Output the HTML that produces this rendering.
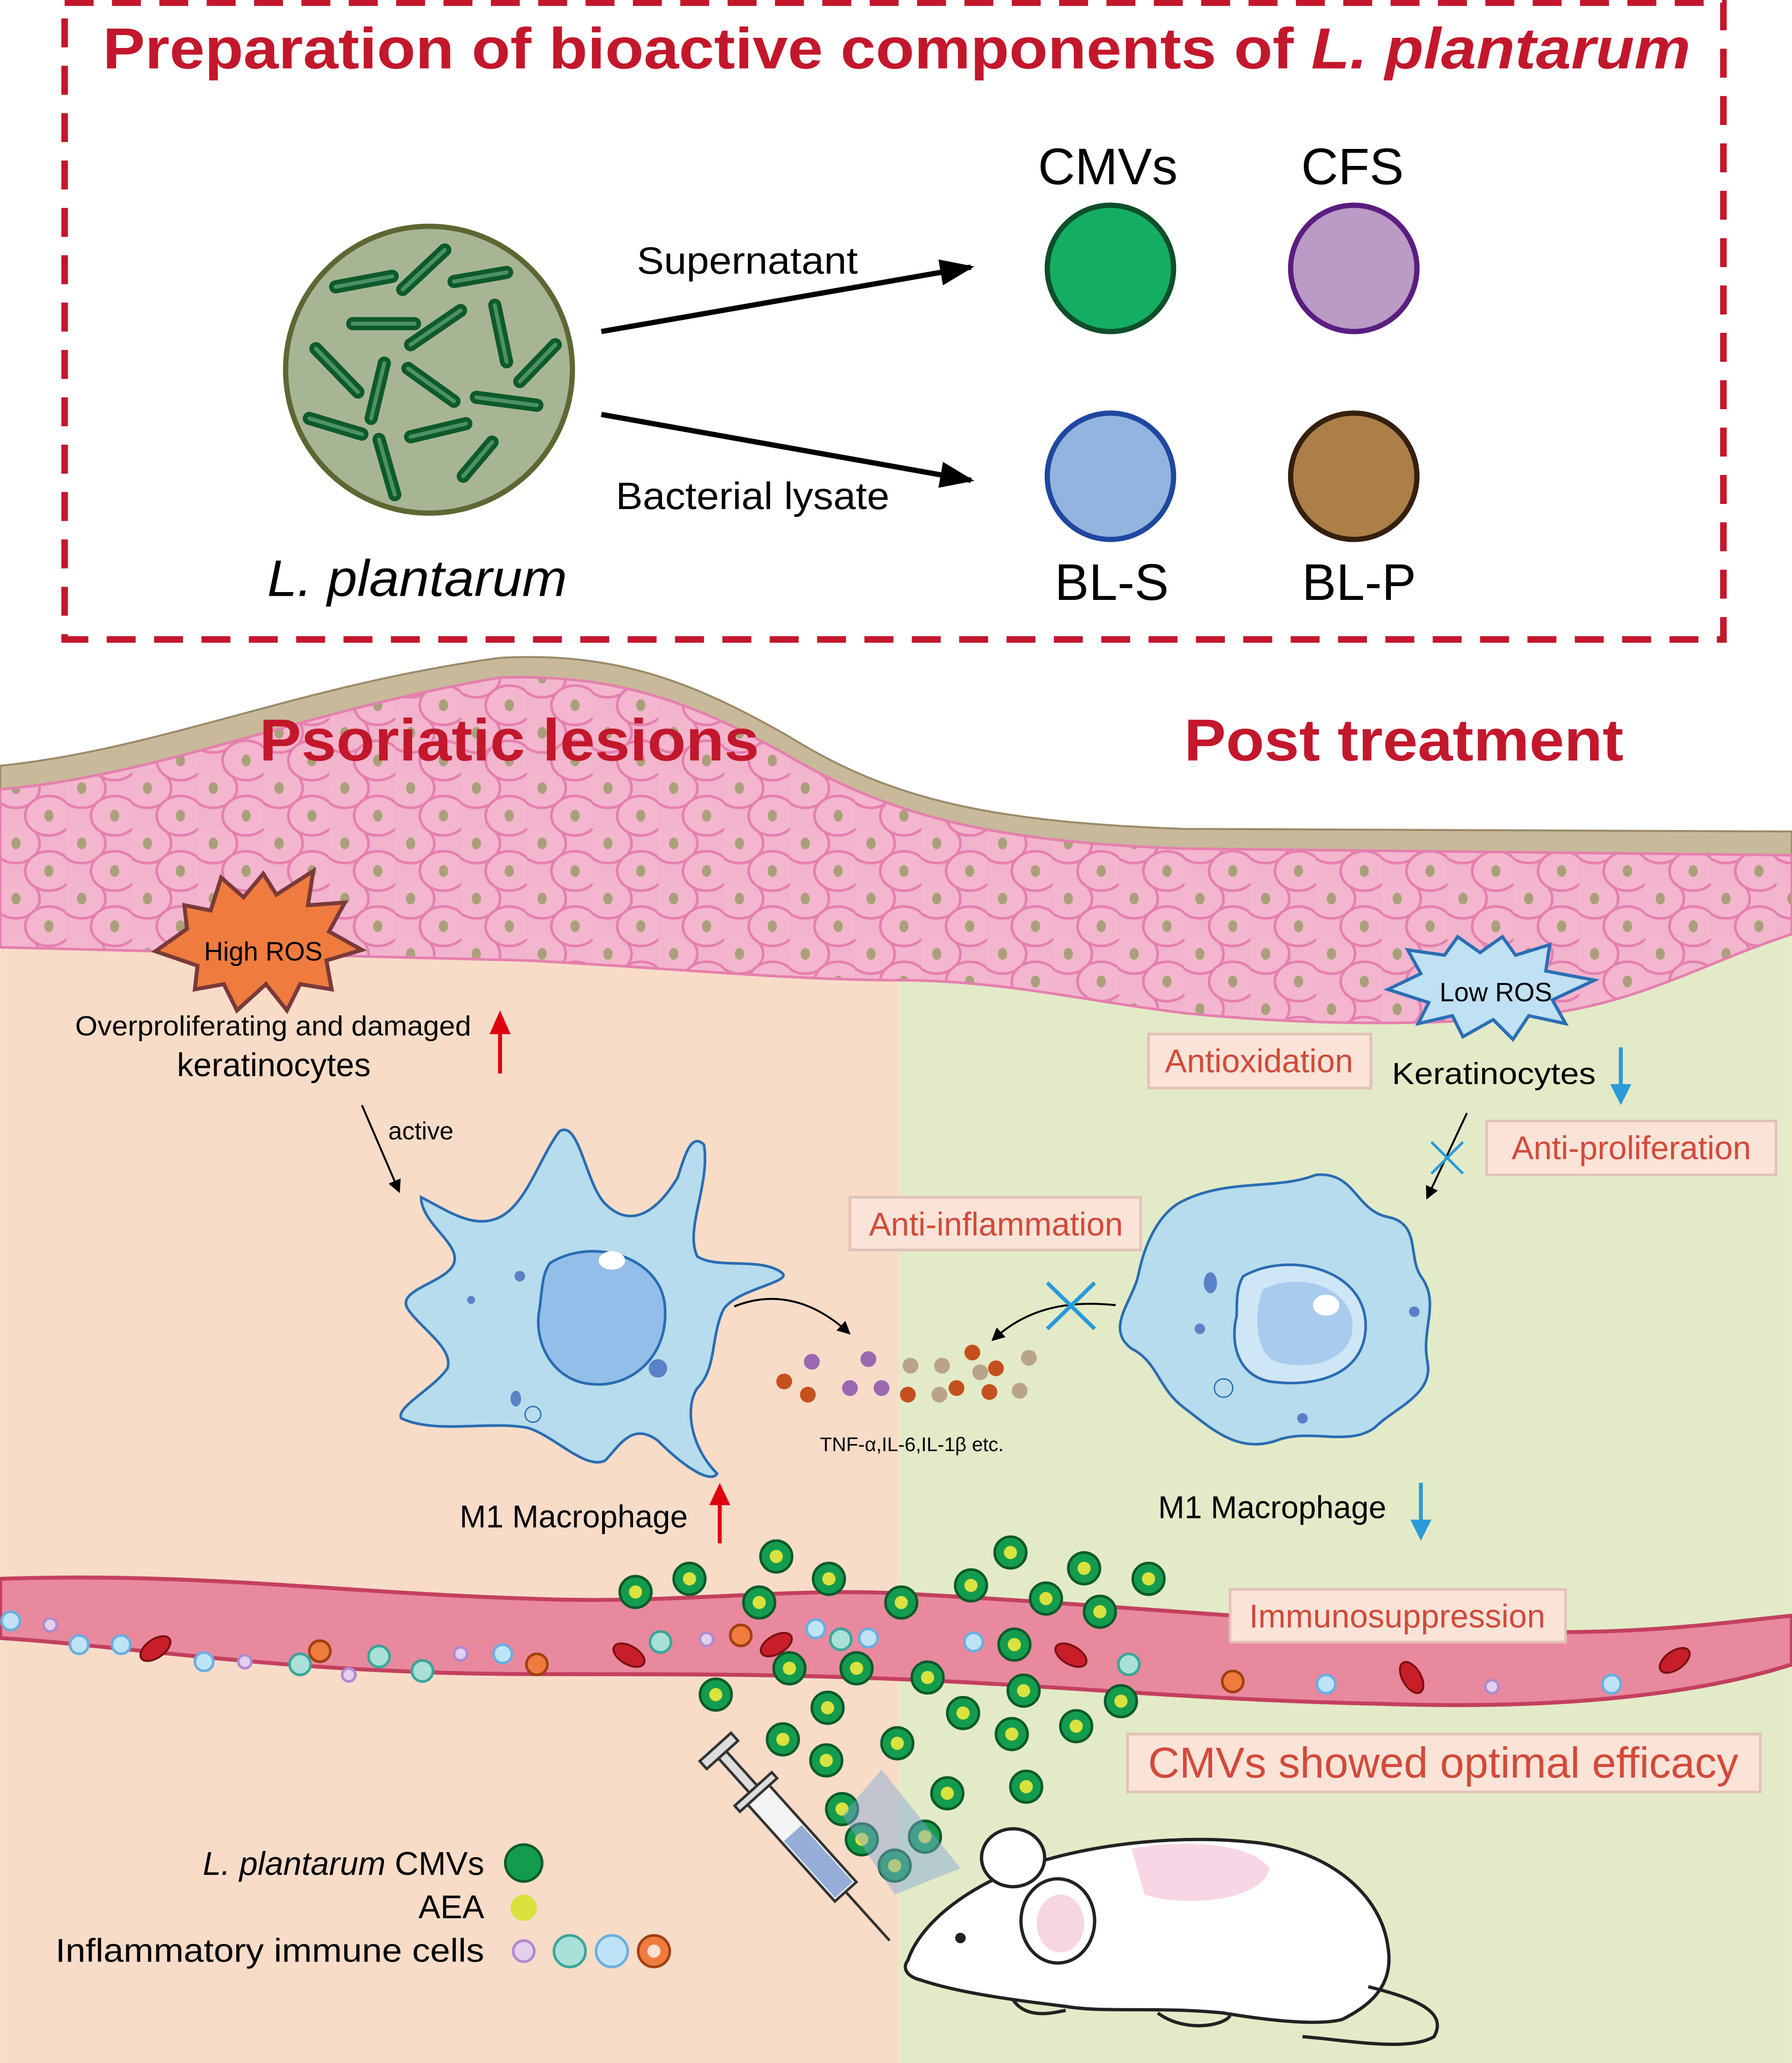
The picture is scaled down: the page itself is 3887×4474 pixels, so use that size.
<!DOCTYPE html>
<html><head><meta charset="utf-8"><style>
html,body{margin:0;padding:0;background:#fff}
svg{display:block}
text{font-family:"Liberation Sans",sans-serif}
</style></head><body>
<svg width="3887" height="4474" viewBox="0 0 1362 1568" xmlns="http://www.w3.org/2000/svg">
<defs>
<pattern id="cells" width="50" height="42" patternUnits="userSpaceOnUse">
<rect width="50" height="42" fill="#f2b3cd"/>
<ellipse cx="12" cy="11" rx="18" ry="15" fill="#f3b6ce" stroke="#e57fae" stroke-width="2"/>
<ellipse cx="37" cy="32" rx="18" ry="15" fill="#f3b6ce" stroke="#e57fae" stroke-width="2"/>
<ellipse cx="37" cy="-10" rx="18" ry="15" fill="#f3b6ce" stroke="#e57fae" stroke-width="2"/>
<ellipse cx="12" cy="11" rx="3.5" ry="4.5" fill="#a9a07a"/>
<ellipse cx="37" cy="32" rx="3.5" ry="4.5" fill="#a9a07a"/>
</pattern>
<marker id="ab" markerWidth="10" markerHeight="10" refX="8" refY="5" orient="auto" markerUnits="userSpaceOnUse"><path d="M0,0 L10,5 L0,10 Z" fill="#000"/></marker>
<marker id="abig" viewBox="0 0 10 10" markerWidth="26" markerHeight="20" refX="9" refY="5" orient="auto" markerUnits="userSpaceOnUse" preserveAspectRatio="none"><path d="M0,0 L10,5 L0,10 Z" fill="#000"/></marker>
<g id="cmv"><circle r="12" fill="#149c4e" stroke="#0b5a2c" stroke-width="2"/><circle r="5" fill="#d9e23f"/></g>
</defs>

<!-- lower backgrounds -->
<rect x="0" y="650" width="683" height="918" fill="#f8dcc8"/>
<rect x="683" y="650" width="679" height="918" fill="#e3eac7"/>

<!-- skin -->
<path d="M0,582 C120,570 230,520 380,500 C470,495 530,520 600,560 C680,610 760,625 900,630 L1362,632 L1362,710 C1300,730 1250,760 1180,770 C1100,780 1000,780 900,770 C820,760 760,745 683,745 C600,745 500,735 400,730 C300,728 150,725 0,720 Z" fill="#c8b99a" stroke="#9a8a6a" stroke-width="1.5"/>
<path d="M0,600 C120,590 230,540 380,515 C470,512 530,535 600,575 C680,622 760,640 900,645 L1362,650 L1362,710 C1300,730 1250,760 1180,770 C1100,780 1000,780 900,770 C820,760 760,745 683,745 C600,745 500,735 400,730 C300,728 150,725 0,720 Z" fill="url(#cells)" stroke="#e57fae" stroke-width="2"/>

<!-- dashed box -->
<rect x="49" y="2" width="1261" height="484" fill="none" stroke="#c3172c" stroke-width="5" stroke-dasharray="22,14"/>
<text x="78" y="52" font-size="44" font-weight="bold" fill="#c3172c" textLength="1207" lengthAdjust="spacingAndGlyphs">Preparation of bioactive components of <tspan font-style="italic">L. plantarum</tspan></text>

<!-- bacteria -->
<circle cx="326" cy="281" r="109" fill="#a8b595" stroke="#5d6733" stroke-width="4"/>
<g stroke="#0d5a2a" stroke-width="10" stroke-linecap="round" fill="none">
<line x1="255" y1="218" x2="298" y2="210"/><line x1="306" y1="220" x2="338" y2="190"/><line x1="345" y1="214" x2="385" y2="207"/>
<line x1="268" y1="246" x2="315" y2="246"/><line x1="312" y1="262" x2="350" y2="236"/><line x1="376" y1="232" x2="385" y2="275"/>
<line x1="240" y1="265" x2="272" y2="298"/><line x1="292" y1="276" x2="282" y2="318"/><line x1="310" y1="280" x2="345" y2="305"/>
<line x1="395" y1="290" x2="422" y2="262"/><line x1="362" y1="302" x2="408" y2="308"/><line x1="235" y1="318" x2="275" y2="330"/>
<line x1="312" y1="332" x2="354" y2="322"/><line x1="288" y1="334" x2="300" y2="376"/><line x1="352" y1="362" x2="374" y2="336"/>
</g>
<g stroke="#66a97c" stroke-width="3" stroke-linecap="round" fill="none" opacity="0.7">
<line x1="255" y1="218" x2="298" y2="210"/><line x1="306" y1="220" x2="338" y2="190"/><line x1="345" y1="214" x2="385" y2="207"/>
<line x1="268" y1="246" x2="315" y2="246"/><line x1="312" y1="262" x2="350" y2="236"/><line x1="376" y1="232" x2="385" y2="275"/>
<line x1="240" y1="265" x2="272" y2="298"/><line x1="292" y1="276" x2="282" y2="318"/><line x1="310" y1="280" x2="345" y2="305"/>
<line x1="395" y1="290" x2="422" y2="262"/><line x1="362" y1="302" x2="408" y2="308"/><line x1="235" y1="318" x2="275" y2="330"/>
<line x1="312" y1="332" x2="354" y2="322"/><line x1="288" y1="334" x2="300" y2="376"/><line x1="352" y1="362" x2="374" y2="336"/>
</g>
<text x="203" y="453" font-size="39" font-style="italic" textLength="228" lengthAdjust="spacingAndGlyphs">L. plantarum</text>

<line x1="457" y1="252" x2="738" y2="203" stroke="#000" stroke-width="4" marker-end="url(#abig)"/>
<line x1="457" y1="315" x2="738" y2="365" stroke="#000" stroke-width="4" marker-end="url(#abig)"/>
<text x="484" y="208" font-size="29" textLength="168" lengthAdjust="spacingAndGlyphs">Supernatant</text>
<text x="468" y="387" font-size="29" textLength="208" lengthAdjust="spacingAndGlyphs">Bacterial lysate</text>

<circle cx="844" cy="204" r="48" fill="#14ae62" stroke="#0e4f2a" stroke-width="4"/>
<circle cx="1029" cy="204" r="48" fill="#b99bc6" stroke="#5b1d80" stroke-width="4"/>
<circle cx="844" cy="362" r="48" fill="#93b4de" stroke="#1f47a0" stroke-width="4"/>
<circle cx="1029" cy="362" r="48" fill="#ac7f48" stroke="#35200e" stroke-width="4"/>
<text x="842" y="140" font-size="39" text-anchor="middle">CMVs</text>
<text x="1028" y="140" font-size="39" text-anchor="middle">CFS</text>
<text x="845" y="456" font-size="39" text-anchor="middle">BL-S</text>
<text x="1033" y="456" font-size="39" text-anchor="middle">BL-P</text>

<text x="197" y="578" font-size="45" font-weight="bold" fill="#c3172c" textLength="380" lengthAdjust="spacingAndGlyphs">Psoriatic lesions</text>
<text x="900" y="578" font-size="45" font-weight="bold" fill="#c3172c" textLength="334" lengthAdjust="spacingAndGlyphs">Post treatment</text>

<!-- ROS stars -->
<polygon points="118,723 142,706 140,688 160,692 168,667 185,682 200,664 210,680 238,662 234,688 262,686 250,708 275,722 248,730 252,752 228,748 218,768 202,748 180,768 170,748 148,752 150,734" fill="#ef7b3e" stroke="#7a3a3a" stroke-width="3"/>
<text x="200" y="730" font-size="20" text-anchor="middle">High ROS</text>
<polygon points="1055,752 1080,740 1070,722 1098,726 1108,712 1125,724 1142,712 1152,726 1178,718 1175,738 1212,745 1180,760 1190,778 1162,772 1150,790 1135,775 1112,788 1104,772 1078,778 1086,762" fill="#bfe1f3" stroke="#2b6eb4" stroke-width="2.5"/>
<text x="1137" y="761" font-size="20" text-anchor="middle">Low ROS</text>

<text x="57" y="787" font-size="21" textLength="301" lengthAdjust="spacingAndGlyphs">Overproliferating and damaged</text>
<text x="208" y="818" font-size="25" text-anchor="middle">keratinocytes</text>
<line x1="380" y1="816" x2="380" y2="775" stroke="#e00010" stroke-width="3"/><path d="M372,786 L380,768 L388,786 Z" fill="#e00010"/>
<line x1="275" y1="840" x2="303" y2="905" stroke="#000" stroke-width="1.5" marker-end="url(#ab)"/>
<text x="295" y="866" font-size="19">active</text>

<text x="1058" y="824" font-size="23" textLength="155" lengthAdjust="spacingAndGlyphs">Keratinocytes</text>
<line x1="1232" y1="796" x2="1232" y2="832" stroke="#2a9ad8" stroke-width="3"/><path d="M1224,824 L1232,840 L1240,824 Z" fill="#2a9ad8"/>

<line x1="1115" y1="846" x2="1085" y2="910" stroke="#000" stroke-width="1.5" marker-end="url(#ab)"/>
<path d="M1088,868 L1112,892 M1112,868 L1088,892" stroke="#2a9ad8" stroke-width="2"/>

<!-- left macrophage -->
<path d="M320,910 C340,920 360,935 380,925 C400,915 410,880 425,860 C440,850 445,900 460,915 C480,935 500,920 515,895 C520,880 525,860 535,870 C540,900 520,935 530,955 C545,965 580,955 595,968 C600,975 560,980 550,995 C540,1015 545,1040 530,1055 C520,1070 525,1100 545,1120 C540,1128 520,1115 500,1095 C480,1080 470,1100 460,1110 C445,1118 420,1090 400,1085 C370,1080 330,1090 305,1078 C300,1070 330,1055 340,1040 C345,1025 320,1010 310,995 C300,980 340,975 345,960 C350,945 320,930 320,910 Z" fill="#b6dced" stroke="#2a6cb2" stroke-width="2"/>
<path d="M418,960 C450,940 500,955 505,990 C510,1030 480,1055 450,1052 C420,1050 405,1020 410,995 C412,980 412,968 418,960 Z" fill="#93bee9" stroke="#2a6cb2" stroke-width="2"/>
<ellipse cx="465" cy="958" rx="10" ry="7" fill="#fff"/>
<circle cx="500" cy="1040" r="7" fill="#5a80c8"/><circle cx="395" cy="970" r="4" fill="#5a80c8"/><circle cx="358" cy="988" r="3" fill="#5a80c8"/><ellipse cx="392" cy="1063" rx="4" ry="6" fill="#5a80c8"/><circle cx="405" cy="1075" r="6" fill="none" stroke="#2a6cb2"/>
<text x="436" y="1161" font-size="24" text-anchor="middle">M1 Macrophage</text>
<line x1="547" y1="1173" x2="547" y2="1136" stroke="#e00010" stroke-width="3"/><path d="M539,1144 L547,1127 L555,1144 Z" fill="#e00010"/>

<!-- right macrophage -->
<path d="M895,915 C930,895 970,905 1000,893 C1030,890 1030,920 1055,925 C1080,930 1070,955 1080,970 C1095,990 1080,1010 1085,1035 C1090,1060 1060,1070 1045,1085 C1025,1100 995,1085 970,1095 C940,1105 920,1085 900,1070 C880,1055 880,1035 860,1025 C840,1010 860,990 865,970 C870,945 880,925 895,915 Z" fill="#b6dced" stroke="#2a6cb2" stroke-width="2"/>
<path d="M945,970 C980,950 1040,965 1038,1010 C1036,1045 1000,1055 965,1050 C940,1045 935,1020 940,1000 C940,988 940,978 945,970 Z" fill="#cfe6f6" stroke="#2a6cb2" stroke-width="2"/>
<path d="M960,980 C990,965 1030,980 1028,1010 C1026,1035 995,1042 970,1035 C955,1030 952,1000 960,980 Z" fill="#a9cbee"/>
<ellipse cx="1008" cy="992" rx="10" ry="8" fill="#fff"/>
<ellipse cx="920" cy="975" rx="5" ry="8" fill="#5a80c8"/><circle cx="1075" cy="997" r="4" fill="#5a80c8"/><circle cx="990" cy="1078" r="4" fill="#5a80c8"/><circle cx="930" cy="1055" r="7" fill="none" stroke="#2a6cb2"/><circle cx="912" cy="1010" r="4" fill="#5a80c8"/>
<text x="967" y="1154" font-size="24" text-anchor="middle">M1 Macrophage</text>
<line x1="1080" y1="1127" x2="1080" y2="1162" stroke="#2a9ad8" stroke-width="3"/><path d="M1072,1155 L1080,1171 L1088,1155 Z" fill="#2a9ad8"/>

<!-- cytokine arrows -->
<path d="M558,993 C590,980 620,990 645,1013" fill="none" stroke="#000" stroke-width="1.5" marker-end="url(#ab)"/>
<path d="M848,992 C810,988 780,995 755,1018" fill="none" stroke="#000" stroke-width="1.5" marker-end="url(#ab)"/>
<path d="M796,975 L832,1010 M832,975 L796,1010" stroke="#2a9ad8" stroke-width="3"/>
<g>
<circle cx="617" cy="1035" r="6" fill="#9a68b0"/><circle cx="660" cy="1033" r="6" fill="#9a68b0"/><circle cx="596" cy="1050" r="6" fill="#c4501e"/><circle cx="614" cy="1060" r="6" fill="#c4501e"/><circle cx="646" cy="1055" r="6" fill="#9a68b0"/><circle cx="670" cy="1055" r="6" fill="#9a68b0"/><circle cx="692" cy="1038" r="6" fill="#b9a489"/><circle cx="690" cy="1060" r="6" fill="#c4501e"/><circle cx="716" cy="1038" r="6" fill="#b9a489"/><circle cx="727" cy="1055" r="6" fill="#c4501e"/><circle cx="739" cy="1028" r="6" fill="#c4501e"/><circle cx="745" cy="1043" r="6" fill="#b9a489"/><circle cx="757" cy="1040" r="6" fill="#c4501e"/><circle cx="752" cy="1058" r="6" fill="#c4501e"/><circle cx="775" cy="1057" r="6" fill="#b9a489"/><circle cx="782" cy="1032" r="6" fill="#b9a489"/><circle cx="714" cy="1060" r="6" fill="#b9a489"/>
</g>
<text x="693" y="1103" font-size="15" text-anchor="middle">TNF-α,IL-6,IL-1β etc.</text>

<!-- blood vessel -->
<path d="M0,1200 C150,1195 250,1210 400,1215 C520,1220 600,1205 700,1212 C850,1220 1000,1235 1150,1240 C1250,1243 1320,1232 1362,1228 L1362,1265 C1300,1285 1200,1300 1050,1295 C900,1292 800,1280 650,1275 C500,1270 400,1275 300,1270 C180,1265 80,1250 0,1245 Z" fill="#e9899e" stroke="#c3405f" stroke-width="3"/>
<g fill="#c81e2a" stroke="#7a1010" stroke-width="1.5">
<ellipse cx="118" cy="1253" rx="13" ry="7" transform="rotate(-35 118 1253)"/><ellipse cx="478" cy="1258" rx="13" ry="7" transform="rotate(30 478 1258)"/><ellipse cx="590" cy="1250" rx="13" ry="7" transform="rotate(-30 590 1250)"/><ellipse cx="814" cy="1258" rx="13" ry="7" transform="rotate(30 814 1258)"/><ellipse cx="1073" cy="1275" rx="13" ry="7" transform="rotate(60 1073 1275)"/><ellipse cx="1273" cy="1262" rx="13" ry="7" transform="rotate(-35 1273 1262)"/>
</g>
<g stroke-width="2">
<circle cx="243" cy="1255" r="8" fill="#ef7b3e" stroke="#a04010"/><circle cx="408" cy="1265" r="8" fill="#ef7b3e" stroke="#a04010"/><circle cx="563" cy="1243" r="8" fill="#ef7b3e" stroke="#a04010"/><circle cx="937" cy="1278" r="8" fill="#ef7b3e" stroke="#a04010"/>
<circle cx="228" cy="1265" r="8" fill="#a9e0d8" stroke="#3aa59a"/><circle cx="288" cy="1259" r="8" fill="#a9e0d8" stroke="#3aa59a"/><circle cx="321" cy="1270" r="8" fill="#a9e0d8" stroke="#3aa59a"/><circle cx="502" cy="1248" r="8" fill="#a9e0d8" stroke="#3aa59a"/><circle cx="639" cy="1246" r="8" fill="#a9e0d8" stroke="#3aa59a"/><circle cx="858" cy="1265" r="8" fill="#a9e0d8" stroke="#3aa59a"/>
<circle cx="8" cy="1232" r="7" fill="#bfe3f6" stroke="#6aaee0"/><circle cx="60" cy="1250" r="7" fill="#bfe3f6" stroke="#6aaee0"/><circle cx="92" cy="1250" r="7" fill="#bfe3f6" stroke="#6aaee0"/><circle cx="155" cy="1263" r="7" fill="#bfe3f6" stroke="#6aaee0"/><circle cx="382" cy="1257" r="7" fill="#bfe3f6" stroke="#6aaee0"/><circle cx="620" cy="1238" r="7" fill="#bfe3f6" stroke="#6aaee0"/><circle cx="660" cy="1245" r="7" fill="#bfe3f6" stroke="#6aaee0"/><circle cx="740" cy="1248" r="7" fill="#bfe3f6" stroke="#6aaee0"/><circle cx="1008" cy="1280" r="7" fill="#bfe3f6" stroke="#6aaee0"/><circle cx="1225" cy="1280" r="7" fill="#bfe3f6" stroke="#6aaee0"/>
<circle cx="38" cy="1235" r="5" fill="#e2d0ee" stroke="#b08ad0"/><circle cx="186" cy="1263" r="5" fill="#e2d0ee" stroke="#b08ad0"/><circle cx="265" cy="1273" r="5" fill="#e2d0ee" stroke="#b08ad0"/><circle cx="537" cy="1246" r="5" fill="#e2d0ee" stroke="#b08ad0"/><circle cx="1134" cy="1282" r="5" fill="#e2d0ee" stroke="#b08ad0"/><circle cx="350" cy="1257" r="5" fill="#e2d0ee" stroke="#b08ad0"/>
</g>

<!-- boxed labels -->
<g font-size="25" fill="#d24a3a">
<rect x="873" y="786" width="169" height="41" fill="#fbe3d8" stroke="#e2c2b8" stroke-width="2"/><text x="957" y="815" text-anchor="middle">Antioxidation</text>
<rect x="1130" y="852" width="220" height="41" fill="#fbe3d8" stroke="#e2c2b8" stroke-width="2"/><text x="1240" y="881" text-anchor="middle">Anti-proliferation</text>
<rect x="646" y="910" width="221" height="40" fill="#fbe3d8" stroke="#e2c2b8" stroke-width="2"/><text x="757" y="939" text-anchor="middle">Anti-inflammation</text>
<rect x="935" y="1208" width="255" height="40" fill="#fbe3d8" stroke="#e2c2b8" stroke-width="2"/><text x="1062" y="1237" text-anchor="middle">Immunosuppression</text>
<rect x="857" y="1318" width="481" height="44" fill="#fbe3d8" stroke="#e2c2b8" stroke-width="2"/><text x="1097" y="1351" font-size="33" text-anchor="middle">CMVs showed optimal efficacy</text>
</g>

<!-- CMV particles -->
<g>
<use href="#cmv" x="483" y="1210"/><use href="#cmv" x="524" y="1200"/><use href="#cmv" x="590" y="1183"/><use href="#cmv" x="630" y="1200"/><use href="#cmv" x="577" y="1218"/><use href="#cmv" x="685" y="1218"/><use href="#cmv" x="738" y="1205"/><use href="#cmv" x="768" y="1180"/><use href="#cmv" x="795" y="1215"/><use href="#cmv" x="824" y="1192"/><use href="#cmv" x="873" y="1200"/><use href="#cmv" x="836" y="1225"/>
<use href="#cmv" x="600" y="1268"/><use href="#cmv" x="651" y="1268"/><use href="#cmv" x="705" y="1275"/><use href="#cmv" x="771" y="1250"/><use href="#cmv" x="544" y="1288"/><use href="#cmv" x="629" y="1298"/><use href="#cmv" x="732" y="1302"/><use href="#cmv" x="778" y="1285"/><use href="#cmv" x="818" y="1312"/><use href="#cmv" x="852" y="1293"/><use href="#cmv" x="769" y="1318"/>
<use href="#cmv" x="595" y="1322"/><use href="#cmv" x="628" y="1338"/><use href="#cmv" x="682" y="1325"/><use href="#cmv" x="720" y="1363"/><use href="#cmv" x="780" y="1358"/><use href="#cmv" x="640" y="1375"/><use href="#cmv" x="655" y="1398"/><use href="#cmv" x="703" y="1396"/><use href="#cmv" x="680" y="1418"/>
</g>

<!-- syringe spray -->
<polygon points="640,1380 670,1345 730,1420 680,1440" fill="#7fa7d6" opacity="0.45"/>
<g transform="rotate(48 610 1400)">
<rect x="560" y="1390" width="100" height="22" fill="#f4f4f4" stroke="#333" stroke-width="2"/>
<rect x="600" y="1392" width="58" height="18" fill="#6c8fcc" opacity="0.7"/>
<rect x="520" y="1397" width="40" height="8" fill="#ddd" stroke="#333" stroke-width="2"/>
<rect x="512" y="1385" width="8" height="32" fill="#ddd" stroke="#333" stroke-width="2"/>
<rect x="555" y="1382" width="6" height="38" fill="#ddd" stroke="#333" stroke-width="2"/>
<line x1="660" y1="1401" x2="710" y2="1401" stroke="#333" stroke-width="2"/>
</g>

<!-- mouse -->
<path d="M690,1490 C700,1460 740,1430 790,1415 C840,1400 900,1395 950,1400 C1010,1405 1050,1440 1055,1480 C1060,1510 1040,1525 1020,1535 C1000,1540 960,1535 930,1530 C880,1525 840,1530 810,1525 C770,1520 730,1515 700,1505 C688,1502 686,1495 690,1490 Z" fill="#fff" stroke="#222" stroke-width="2.5"/>
<ellipse cx="804" cy="1460" rx="28" ry="32" fill="#fff" stroke="#222" stroke-width="2.5"/>
<ellipse cx="806" cy="1462" rx="18" ry="22" fill="#f6d6e0"/>
<ellipse cx="770" cy="1412" rx="24" ry="22" fill="#fff" stroke="#222" stroke-width="2.5"/>
<circle cx="730" cy="1473" r="4" fill="#222"/>
<path d="M860,1405 C900,1398 950,1400 965,1420 C960,1445 900,1450 870,1440 Z" fill="#f8d6e6"/>
<path d="M1040,1510 C1080,1520 1100,1530 1090,1548 C1070,1560 1020,1550 990,1548" fill="none" stroke="#222" stroke-width="2.5"/>
<path d="M770,1520 C780,1535 800,1530 810,1528 M880,1530 C900,1545 930,1540 935,1532" fill="none" stroke="#222" stroke-width="2.5"/>

<!-- legend -->
<text x="368" y="1425" font-size="25" text-anchor="end"><tspan font-style="italic">L. plantarum</tspan> CMVs</text>
<circle cx="398" cy="1416" r="14" fill="#149c4e" stroke="#0b5a2c" stroke-width="2"/>
<text x="368" y="1458" font-size="25" text-anchor="end">AEA</text>
<circle cx="398" cy="1450" r="10" fill="#d9e23f"/>
<text x="368" y="1491" font-size="25" text-anchor="end" textLength="326" lengthAdjust="spacingAndGlyphs">Inflammatory immune cells</text>
<circle cx="398" cy="1483" r="8" fill="#e2d0ee" stroke="#b08ad0" stroke-width="2"/>
<circle cx="433" cy="1483" r="12" fill="#a9e0d8" stroke="#3aa59a" stroke-width="2"/>
<circle cx="465" cy="1483" r="12" fill="#bfe3f6" stroke="#6aaee0" stroke-width="2"/>
<circle cx="497" cy="1483" r="12" fill="#ef7b3e" stroke="#a04010" stroke-width="2"/><circle cx="497" cy="1483" r="5" fill="#fbe0d0"/>
</svg>
</body></html>
